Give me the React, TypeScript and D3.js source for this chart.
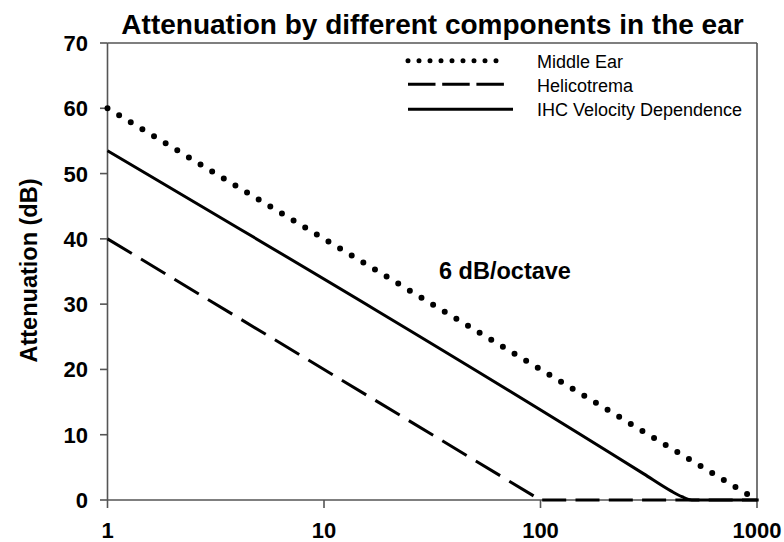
import React from "react";
import * as d3 from "d3";

const title = "Attenuation by different components in the ear";
const yLabel = "Attenuation (dB)";
const annotation = "6 dB/octave";

const xTicks = [1, 10, 100, 1000];
const yTicks = [0, 10, 20, 30, 40, 50, 60, 70];

const seriesNames = ["Middle Ear", "Helicotrema", "IHC Velocity Dependence"];

const middleEar: [number, number][] = [
  [1, 60],
  [1000, 0],
];
const helicotrema: [number, number][] = [
  [1, 40],
  [100, 0],
  [1000, 0],
];
const ihc: [number, number][] = [
  [1, 53.5],
  [300, 4],
  [400, 1.4],
  [450, 0.5],
  [500, 0],
  [1000, 0],
];

const W = 784;
const H = 542;
const L = 107.5;
const R = 757;
const T = 43;
const B = 500;

export default function App() {
  const x = d3.scaleLog().domain([1, 1000]).range([L, R]);
  const y = d3.scaleLinear().domain([0, 70]).range([B, T]);

  const line = d3
    .line<[number, number]>()
    .x((d) => x(d[0]))
    .y((d) => y(d[1]));
  const smooth = d3
    .line<[number, number]>()
    .x((d) => x(d[0]))
    .y((d) => y(d[1]))
    .curve(d3.curveMonotoneX);

  const axisColor = "#555";
  const font = "'Liberation Sans', Arial, sans-serif";

  const legendX1 = 408;
  const legendTextX = 537;
  const legendRows = [60.7, 84.3, 109.3];
  const legendBase = [67.5, 91.5, 116];

  return (
    <svg
      width={W}
      height={H}
      style={{ position: "fixed", left: 0, top: 0, background: "#fff" }}
      fontFamily={font}
    >
      <rect x={0} y={0} width={W} height={H} fill="#fff" />
      {/* frame */}
      <line x1={L} x2={R} y1={T} y2={T} stroke={axisColor} strokeWidth={1.6} />
      <line x1={R} x2={R} y1={T} y2={B} stroke={axisColor} strokeWidth={1.6} />
      <line x1={L} x2={L} y1={T} y2={B} stroke={axisColor} strokeWidth={1.6} />
      <line x1={L} x2={R} y1={B} y2={B} stroke={axisColor} strokeWidth={1.6} />

      {/* y ticks */}
      {yTicks.map((t) => (
        <g key={"y" + t}>
          <line x1={L - 7.5} x2={L} y1={y(t)} y2={y(t)} stroke={axisColor} strokeWidth={1.6} />
          <text
            x={88}
            y={y(t) + 8}
            textAnchor="end"
            fontSize={22}
            fontWeight="bold"
            fill="#000"
          >
            {t}
          </text>
        </g>
      ))}

      {/* x ticks */}
      {xTicks.map((t) => (
        <g key={"x" + t}>
          <line x1={x(t)} x2={x(t)} y1={B} y2={B + 8} stroke={axisColor} strokeWidth={1.6} />
          <text
            x={x(t)}
            y={537.5}
            textAnchor="middle"
            fontSize={22}
            fontWeight="bold"
            fill="#000"
          >
            {t}
          </text>
        </g>
      ))}

      {/* series */}
      <path
        d={line(middleEar) || ""}
        fill="none"
        stroke="#000"
        strokeWidth={6}
        strokeLinecap="round"
        strokeDasharray="0 13.58"
      />
      {helicotrema.slice(0, -1).map((p, i) => (
        <path
          key={"h" + i}
          d={line([p, helicotrema[i + 1]]) || ""}
          fill="none"
          stroke="#000"
          strokeWidth={3}
          strokeDasharray={i === 0 ? "28.4 10.7" : "24 9.3"}
          transform={i === 0 ? undefined : "translate(1.7,0)"}
        />
      ))}
      <path d={smooth(ihc) || ""} fill="none" stroke="#000" strokeWidth={3} />

      {/* annotation */}
      <text x={439} y={279.3} fontSize={23.5} fontWeight="bold" fill="#000">
        {annotation}
      </text>

      {/* legend */}
      <line
        x1={legendX1}
        x2={507}
        y1={legendRows[0]}
        y2={legendRows[0]}
        stroke="#000"
        strokeWidth={5}
        strokeLinecap="round"
        strokeDasharray="0 11"
      />
      <line
        x1={legendX1}
        x2={508}
        y1={legendRows[1]}
        y2={legendRows[1]}
        stroke="#000"
        strokeWidth={3}
        strokeDasharray="27.5 6.7"
      />
      <line
        x1={legendX1}
        x2={513}
        y1={legendRows[2]}
        y2={legendRows[2]}
        stroke="#000"
        strokeWidth={3}
      />
      {seriesNames.map((s, i) => (
        <text key={s} x={legendTextX} y={legendBase[i]} fontSize={18} fill="#000">
          {s}
        </text>
      ))}

      {/* title */}
      <text x={432.5} y={33.5} textAnchor="middle" fontSize={28} fontWeight="bold" fill="#000">
        {title}
      </text>

      {/* y label */}
      <text
        transform={`translate(37,270.5) rotate(-90)`}
        textAnchor="middle"
        fontSize={23.5}
        fontWeight="bold"
        fill="#000"
      >
        {yLabel}
      </text>
    </svg>
  );
}
